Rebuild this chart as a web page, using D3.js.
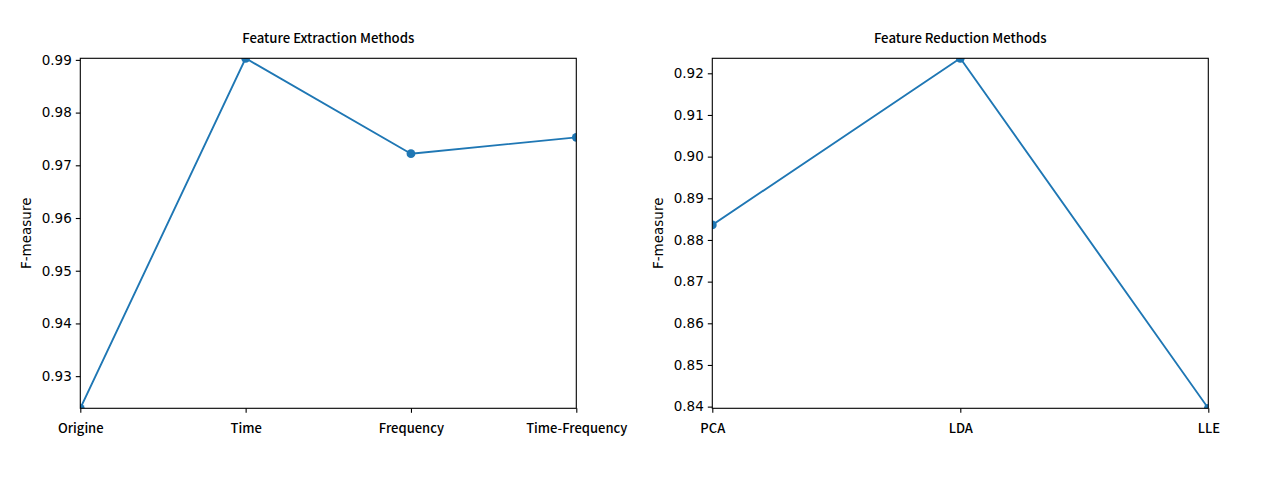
<!DOCTYPE html>
<html><head><meta charset="utf-8">
<script src="https://cdn.jsdelivr.net/npm/d3@7"></script>
<style>body{margin:0;background:#fff}</style>
</head><body>
<svg id="chart" width="1272" height="480"></svg>
<script>
const extractionCategories = ["Origine", "Time", "Frequency", "Time-Frequency"];
const extractionValues = [0.9239, 0.9903, 0.9722, 0.9753];
const extractionTicks = [0.93, 0.94, 0.95, 0.96, 0.97, 0.98, 0.99];

const reductionCategories = ["PCA", "LDA", "LLE"];
const reductionValues = [0.8836, 0.9236, 0.8396];
const reductionTicks = [0.84, 0.85, 0.86, 0.87, 0.88, 0.89, 0.90, 0.91, 0.92];

const svg = d3.select("#chart");
const color = "#1f77b4";
const catFont = "'Noto Sans CJK SC', sans-serif";
const numFont = "'DejaVu Sans', sans-serif";

function panel(id, left, title, cats, vals, ticks) {
  const top = 58.3, bottom = 408.3, width = 496;
  const right = left + width;
  const x = d3.scalePoint().domain(cats).range([left, right]);
  const y = d3.scaleLinear().domain(d3.extent(vals)).range([bottom, top]);
  const g = svg.append("g");

  g.append("clipPath").attr("id", "clip" + id)
    .append("rect").attr("x", left).attr("y", top).attr("width", width).attr("height", bottom - top);

  const data = cats.map((c, i) => ({c, v: vals[i]}));
  const plot = g.append("g").attr("clip-path", `url(#clip${id})`);
  plot.append("path").datum(data)
    .attr("fill", "none").attr("stroke", color).attr("stroke-width", 1.9)
    .attr("stroke-linejoin", "round")
    .attr("d", d3.line().x(d => x(d.c)).y(d => y(d.v)));
  plot.selectAll("circle").data(data).join("circle")
    .attr("cx", d => x(d.c)).attr("cy", d => y(d.v)).attr("r", 4.4).attr("fill", color);

  const ya = g.append("g").attr("transform", `translate(${left},0)`)
    .call(d3.axisLeft(y).tickValues(ticks).tickFormat(d3.format(".2f")).tickSize(4.5).tickPadding(4));
  ya.select(".domain").remove();
  ya.selectAll("line").attr("stroke", "#000").attr("stroke-width", 1.1);
  ya.selectAll("text").attr("font-family", numFont).attr("font-size", 13.5).attr("fill", "#000");

  const xa = g.append("g").attr("transform", `translate(0,${bottom})`)
    .call(d3.axisBottom(x).tickSize(4.5).tickPadding(11));
  xa.select(".domain").remove();
  xa.selectAll("line").attr("stroke", "#000").attr("stroke-width", 1.1);
  xa.selectAll("text").attr("font-family", catFont).attr("font-size", 13).attr("font-weight", 500).attr("fill", "#000");

  g.append("rect").attr("x", left).attr("y", top).attr("width", width).attr("height", bottom - top)
    .attr("fill", "none").attr("stroke", "#000").attr("stroke-width", 1.1);

  g.append("text").attr("x", (left + right) / 2).attr("y", 42.5).attr("text-anchor", "middle")
    .attr("font-family", catFont).attr("font-size", 13.2).attr("font-weight", 500).text(title);

  g.append("text").attr("transform", `translate(${left - 49},${(top + bottom) / 2}) rotate(-90)`)
    .attr("text-anchor", "middle").attr("font-family", numFont).attr("font-size", 13.5)
    .text("F-measure");
}

panel("a", 80.3, "Feature Extraction Methods", extractionCategories, extractionValues, extractionTicks);
panel("b", 712.3, "Feature Reduction Methods", reductionCategories, reductionValues, reductionTicks);
</script>
</body></html>
